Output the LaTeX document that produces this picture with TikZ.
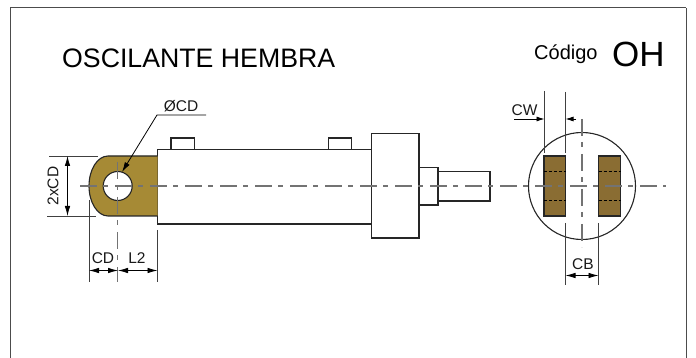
\documentclass[tikz,border=0pt]{standalone}
\usepackage{fontspec}
\setmainfont{Liberation Sans}
\usetikzlibrary{arrows.meta}
\definecolor{brassA}{HTML}{A68A35}
\definecolor{brassB}{HTML}{8A6D33}
\tikzset{
 x=1pt,y=-1pt,
 part/.style={draw=black!85,line width=1.1pt},
 thin line/.style={draw=black!75,line width=.8pt},
 center line/.style={draw=black!55,line width=1.2pt,dash pattern=on 17pt off 6pt on 5pt off 7pt},
 dimen/.style={draw=black,line width=.8pt,{Latex[length=10pt,width=5.5pt]}-{Latex[length=10pt,width=5.5pt]}},
 label/.style={inner sep=0pt,font=\fontsize{15.5}{15.5}\selectfont,text=black!90},
}
\begin{document}
\begin{tikzpicture}
\useasboundingbox (0,0) rectangle (696,358);
\draw[draw=black!70,line width=1pt] (10,8) -- (686,8);
\draw[draw=black!70,line width=1pt] (10,8) -- (10,358);
\draw[draw=black!70,line width=1pt] (686,8) -- (686,358);
\node[inner sep=0pt,anchor=base west,font=\fontsize{26.7}{27}\selectfont] (title) at (62,68) {OSCILANTE HEMBRA};
\node[inner sep=0pt,anchor=base west,font=\fontsize{20}{20}\selectfont] (codigo) at (534,59.5) {Código};
\node[inner sep=0pt,anchor=base west,font=\fontsize{35}{35}\selectfont] (code) at (612,67) {OH};
% cylinder
\draw[part] (171,149.5) -- (171,138) -- (194.5,138) -- (194.5,149.5);
\draw[part] (328.5,149.5) -- (328.5,138) -- (351.5,138) -- (351.5,149.5);
\draw[part] (371.5,149.5) -- (157.5,149.5) -- (157.5,224) -- (371.5,224);
\draw[part] (371.5,133.5) rectangle (419,238);
\draw[part] (419,167.5) rectangle (438,205);
\draw[part] (438,171.5) rectangle (490,201);
% eye
\path[fill=brassA] (157.5,156) -- (108,156) .. controls (97.5,156) and (89,169.5) .. (89,186) .. controls (89,202.5) and (97.5,216) .. (108,216) -- (157.5,216) -- cycle;
\draw[part] (157.5,156) -- (108,156) .. controls (97.5,156) and (89,169.5) .. (89,186) .. controls (89,202.5) and (97.5,216) .. (108,216) -- (157.5,216);
\draw[part,fill=white] (117.7,186) circle (14.5);
% side view
\draw[part] (582,186) circle (53.5);
\draw[part,fill=brassB] (544,156) rectangle (565.5,216);
\draw[part,fill=brassB] (598.5,156) rectangle (620.5,216);
\foreach \xa/\xb in {544/565.5,598.5/620.5}{
 \draw[black,line width=.8pt,dash pattern=on 3pt off 2pt] (\xa,171.5) -- (\xb,171.5);
 \draw[black,line width=.8pt,dash pattern=on 3pt off 2pt] (\xa,200) -- (\xb,200);
}
% centre lines
\draw[center line] (80,186) -- (666,186);
\draw[center line] (582,119) -- (582,247);
\draw[center line] (117.7,162) -- (117.7,282);
% dimensions
\draw[thin line] (49,156) -- (98,156);
\draw[thin line] (47,216) -- (96,216);
\draw[dimen] (67.5,156) -- (67.5,216);
\node[label,rotate=90] (l2xcd) at (53,186) {2xCD};
\draw[thin line] (89,200) -- (89,282);
\draw[thin line] (157.5,230) -- (157.5,282);
\draw[dimen] (89,270.5) -- (118,270.5);
\draw[dimen] (118,270.5) -- (157.5,270.5);
\node[label] (lcd) at (103,258) {CD};
\node[label] (ll2) at (137,258) {L2};
\draw[draw=black,line width=.8pt,-{Latex[length=10pt,width=5.5pt]}] (206,115) -- (157,115) -- (122,172);
\node[label] (lphi) at (181,106) {ØCD};
\draw[thin line] (544.5,91) -- (544.5,153);
\draw[thin line] (565.5,92) -- (565.5,153);
\draw[draw=black,line width=.8pt,-{Latex[length=8pt,width=5pt]}] (514,119) -- (544.5,119);
\draw[draw=black,line width=.8pt,-{Latex[length=8pt,width=5pt]}] (576,119) -- (565.5,119);
\node[label] (lcw) at (524.5,110) {CW};
\draw[thin line] (565.5,223) -- (565.5,285);
\draw[thin line] (598.5,223) -- (598.5,285);
\draw[dimen] (565.5,275.5) -- (598.5,275.5);
\node[label] (lcb) at (583,264) {CB};
\end{tikzpicture}
\end{document}
